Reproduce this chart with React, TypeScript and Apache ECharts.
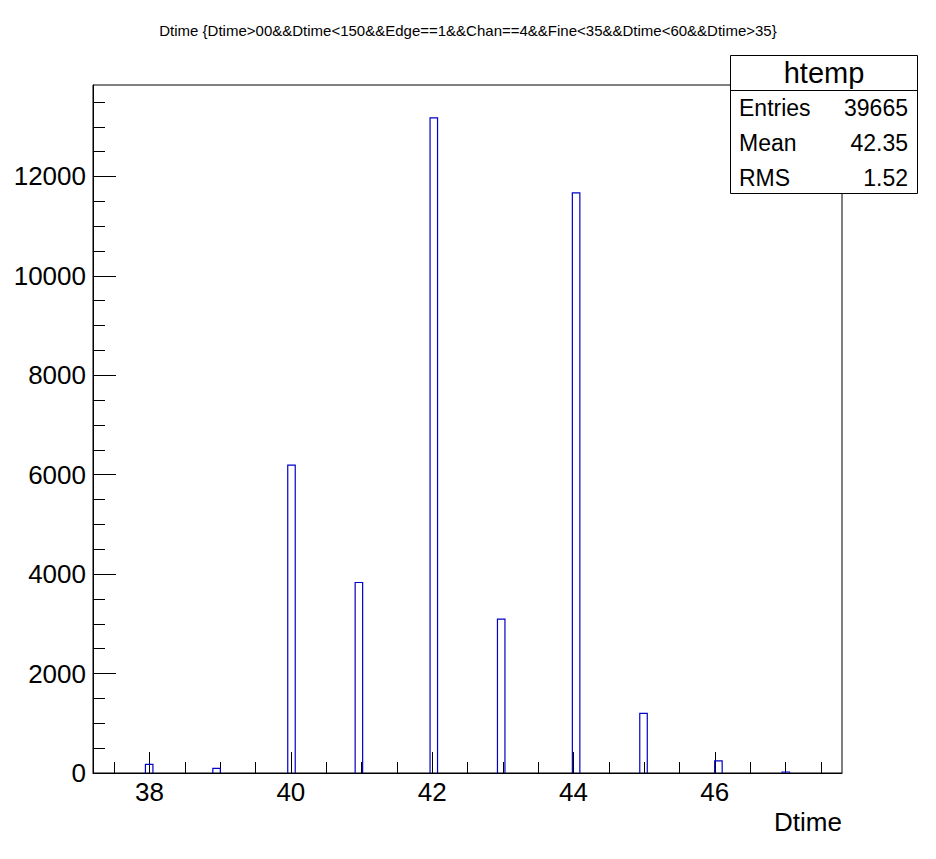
import React, { useEffect, useRef } from "react";
import * as echarts from "echarts";

// Histogram definition (ROOT htemp)
const histXMin = 37.2;
const histXMax = 47.8;
const histBins = 100;

// Filled values and counts
const dtimeValues = [38, 39, 40, 41, 42, 43, 44, 45, 46, 47];
const dtimeCounts = [175, 95, 6195, 3832, 13180, 3094, 11670, 1201, 242, 20];

const yMax = 13840;

// Tick values
const xMajorTicks = [38, 40, 42, 44, 46];
const xMinorTicks = [37.5, 38.5, 39, 39.5, 40.5, 41, 41.5, 42.5, 43, 43.5, 44.5, 45, 45.5, 46.5, 47, 47.5];
const yMajorTicks = [0, 2000, 4000, 6000, 8000, 10000, 12000];
const yMinorTicks = [500, 1000, 1500, 2500, 3000, 3500, 4500, 5000, 5500, 6500, 7000, 7500, 8500, 9000, 9500, 10500, 11000, 11500, 12500, 13000, 13500];

const titleText = "Dtime {Dtime>00&&Dtime<150&&Edge==1&&Chan==4&&Fine<35&&Dtime<60&&Dtime>35}";
const statLabels = ["Entries", "Mean", "RMS"];
const statValues = ["39665", "42.35", "1.52"];

const FONT = "Liberation Sans, Arial, Helvetica, sans-serif";
const BAR_COLOR = "#0000c8";

export default function App() {
  const ref = useRef<HTMLDivElement>(null);

  useEffect(() => {
    if (!ref.current) return;
    const chart = echarts.init(ref.current, null, { renderer: "svg" });
    const bw = (histXMax - histXMin) / histBins;

    const statRows: any[] = statLabels.flatMap((lab, i) => [
      {
        type: "text",
        left: 739,
        top: 108 + i * 35 - 12,
        style: { text: lab, font: `23px ${FONT}`, fill: "#000" },
      },
      {
        type: "text",
        right: 936 - 908,
        top: 108 + i * 35 - 12,
        style: { text: statValues[i], font: `23px ${FONT}`, fill: "#000", textAlign: "right" },
      },
    ]);

    const option: any = {
      animation: false,
      backgroundColor: "#fff",
      grid: {
        left: 93,
        right: 94,
        top: 85,
        bottom: 86,
        show: true,
        borderColor: "#000",
        borderWidth: 1,
        containLabel: false,
      },
      xAxis: [
        {
          type: "value",
          min: histXMin,
          max: histXMax,
          axisLine: { show: true, onZero: false, lineStyle: { color: "#000", width: 1 } },
          splitLine: { show: false },
          axisTick: {
            show: true,
            inside: true,
            length: 21,
            customValues: xMajorTicks,
            lineStyle: { color: "#000", width: 1 },
          },
          axisLabel: {
            show: true,
            customValues: xMajorTicks,
            margin: 6,
            color: "#000",
            fontFamily: FONT,
            fontSize: 26,
            formatter: (v: number) => String(v),
          },
        },
        {
          type: "value",
          min: histXMin,
          max: histXMax,
          position: "bottom",
          axisLine: { show: false },
          splitLine: { show: false },
          axisLabel: { show: false },
          axisTick: {
            show: true,
            inside: true,
            length: 11,
            customValues: xMinorTicks,
            lineStyle: { color: "#000", width: 1 },
          },
        },
      ],
      yAxis: [
        {
          type: "value",
          min: 0,
          max: yMax,
          axisLine: { show: true, onZero: false, lineStyle: { color: "#000", width: 1 } },
          splitLine: { show: false },
          axisTick: {
            show: true,
            inside: true,
            length: 23,
            customValues: yMajorTicks,
            lineStyle: { color: "#000", width: 1 },
          },
          axisLabel: {
            show: true,
            customValues: yMajorTicks,
            margin: 7,
            color: "#000",
            fontFamily: FONT,
            fontSize: 26,
            formatter: (v: number) => String(v),
          },
        },
        {
          type: "value",
          min: 0,
          max: yMax,
          position: "left",
          axisLine: { show: false },
          splitLine: { show: false },
          axisLabel: { show: false },
          axisTick: {
            show: true,
            inside: true,
            length: 12,
            customValues: yMinorTicks,
            lineStyle: { color: "#000", width: 1 },
          },
        },
      ],
      series: [
        {
          type: "custom",
          xAxisIndex: 0,
          yAxisIndex: 0,
          data: dtimeValues.map((v, i) => [v, dtimeCounts[i]]),
          renderItem: (params: any, api: any) => {
            const x = api.value(0);
            const y = api.value(1);
            const bin = Math.floor((x - histXMin) / bw);
            const lo = histXMin + bin * bw;
            const hi = lo + bw;
            const p1 = api.coord([lo, y]);
            const p2 = api.coord([hi, 0]);
            return {
              type: "polyline",
              shape: {
                points: [
                  [p1[0], p2[1]],
                  [p1[0], p1[1]],
                  [p2[0], p1[1]],
                  [p2[0], p2[1]],
                ],
              },
              style: { stroke: BAR_COLOR, lineWidth: 1.2, fill: "none" },
            };
          },
        },
      ],
      graphic: [
        {
          type: "text",
          left: "center",
          top: 23,
          style: { text: titleText, font: `15px ${FONT}`, fill: "#000" },
        },
        {
          type: "text",
          right: 936 - 842,
          top: 809,
          style: { text: "Dtime", font: `26px ${FONT}`, fill: "#000", textAlign: "right" },
        },
        {
          type: "rect",
          shape: { x: 730.5, y: 55.5, width: 187, height: 138 },
          style: { fill: "#fff", stroke: "#000", lineWidth: 1 },
          z: 10,
        },
        {
          type: "line",
          shape: { x1: 730.5, y1: 90.5, x2: 917.5, y2: 90.5 },
          style: { stroke: "#000", lineWidth: 1 },
          z: 10,
        },
        {
          type: "text",
          x: 824,
          y: 73,
          z: 11,
          style: {
            text: "htemp",
            font: `29px ${FONT}`,
            fill: "#000",
            textAlign: "center",
            textVerticalAlign: "middle",
          },
        },
        ...statRows.map((r) => ({ ...r, z: 11 })),
      ],
    };

    chart.setOption(option);
    return () => chart.dispose();
  }, []);

  return (
    <div
      ref={ref}
      style={{ position: "absolute", left: 0, top: 0, width: 936, height: 859 }}
    />
  );
}
